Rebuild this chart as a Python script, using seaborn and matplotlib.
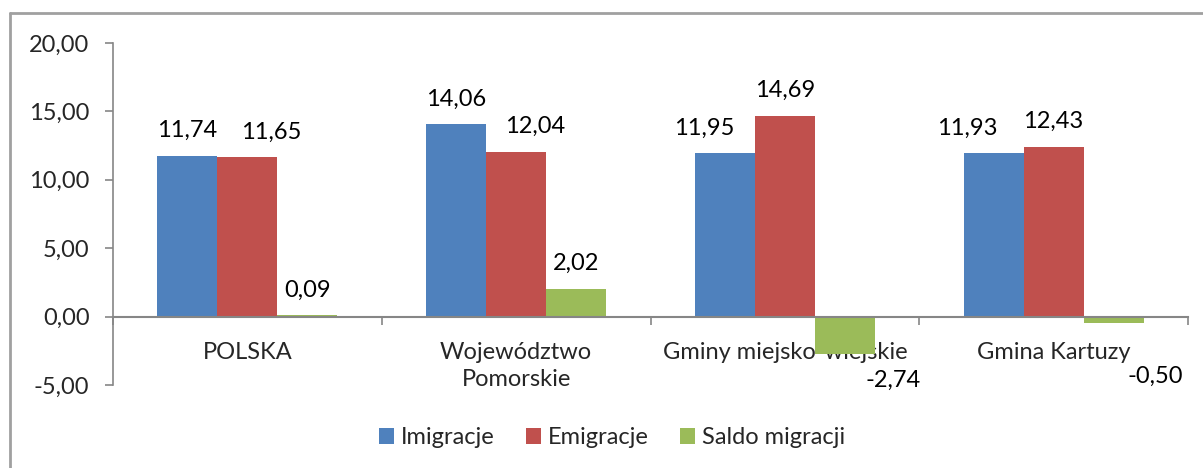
import matplotlib.pyplot as plt
import numpy as np
import pandas as pd
import seaborn as sns
from matplotlib.lines import Line2D
from matplotlib.ticker import FuncFormatter, FixedLocator

sns.set_theme(style="white")
plt.rcParams['font.family'] = ['Lato', 'DejaVu Sans']

categories = ['POLSKA', 'Województwo\nPomorskie', 'Gminy miejsko-wiejskie', 'Gmina Kartuzy']
series = ['Imigracje', 'Emigracje', 'Saldo migracji']
imigracje = [11.74, 14.06, 11.95, 11.93]
emigracje = [11.65, 12.04, 14.69, 12.43]
saldo = [0.09, 2.02, -2.74, -0.50]
colors = ['#4F81BD', '#C0504D', '#9BBB59']

# label shifts (points) - the labels were dragged by hand in the original chart
label_shift = {
    'Imigracje': [(0, 0), (0, 0), (-15, 0), (-19, 0)],
    'Emigracje': [(17, 0), (14, 0), (0, 0), (0, 0)],
    'Saldo migracji': [(0, 0), (0, 0), (35, -19), (30, -38)],
}

df = pd.DataFrame({
    'kategoria': categories * 3,
    'seria': [s for s in series for _ in categories],
    'wartosc': imigracje + emigracje + saldo,
})

fs = 17

fig = plt.figure(figsize=(12.03, 4.68), dpi=100)
ax = fig.add_axes([113 / 1203, 1 - 385 / 468, 1075 / 1203, 342 / 468])

sns.barplot(data=df, x='kategoria', y='wartosc', hue='seria', order=categories,
            hue_order=series, palette=colors, width=0.67, saturation=1,
            edgecolor='none', ax=ax, legend=True)

def fmt(v):
    return '{:.2f}'.format(v).replace('.', ',')

for s, cont in zip(series, ax.containers):
    for i, bar in enumerate(cont):
        v = bar.get_height()
        xc = bar.get_x() + bar.get_width() / 2
        dx, dy = label_shift[s][i]
        if v >= 0:
            ax.annotate(fmt(v), (xc, v), xytext=(dx, 13.5 + dy), textcoords='offset points',
                        ha='center', va='baseline', fontsize=fs, color='black')
        else:
            ax.annotate(fmt(v), (xc, v), xytext=(dx, dy), textcoords='offset points',
                        ha='center', va='center', fontsize=fs, color='black',
                        annotation_clip=False)

ax.set_ylim(-5, 20)
ax.set_xlim(-0.5, 3.5)
ax.set_yticks([-5, 0, 5, 10, 15, 20])
ax.yaxis.set_major_formatter(FuncFormatter(lambda v, p: fmt(v)))
ax.set_xlabel('')
ax.set_ylabel('')

spine_c = '#868686'
for s in ['top', 'right']:
    ax.spines[s].set_visible(False)
ax.spines['left'].set_color(spine_c)
ax.spines['bottom'].set_color(spine_c)
ax.spines['left'].set_linewidth(1.2)
ax.spines['bottom'].set_linewidth(1.5)
ax.spines['bottom'].set_position(('data', 0))

ax.xaxis.set_major_locator(FixedLocator([-0.5, 0.5, 1.5, 2.5, 3.5]))
ax.xaxis.set_minor_locator(FixedLocator([0, 1, 2, 3]))
ax.set_xticklabels([], minor=False)
ax.set_xticklabels(categories, minor=True)
ax.tick_params(axis='x', which='major', direction='out', length=6, width=1.2, color=spine_c, bottom=True)
ax.tick_params(axis='x', which='minor', length=0, pad=18, labelsize=fs)
for lab in ax.get_xticklabels(minor=True):
    lab.set_linespacing(1.35)
    lab.set_va('top')
ax.tick_params(axis='y', direction='out', length=6, width=1.2, color=spine_c, left=True,
               labelsize=fs, pad=11)

leg = ax.legend(loc='center', bbox_to_anchor=(612 / 1203, 1 - 438 / 468),
                bbox_transform=fig.transFigure, ncol=3, frameon=False, fontsize=fs,
                handlelength=0.64, handleheight=0.64, handletextpad=0.3, columnspacing=1.3)

# chart frame (cut off at right and bottom in the reference)
fig.add_artist(Line2D([10 / 1203, 10 / 1203], [0, 1 - 13 / 468], transform=fig.transFigure,
                      color='#A0A0A0', linewidth=2))
fig.add_artist(Line2D([10 / 1203, 1], [1 - 13 / 468, 1 - 13 / 468], transform=fig.transFigure,
                      color='#A0A0A0', linewidth=2))

fig.savefig('out.png', dpi=100)
